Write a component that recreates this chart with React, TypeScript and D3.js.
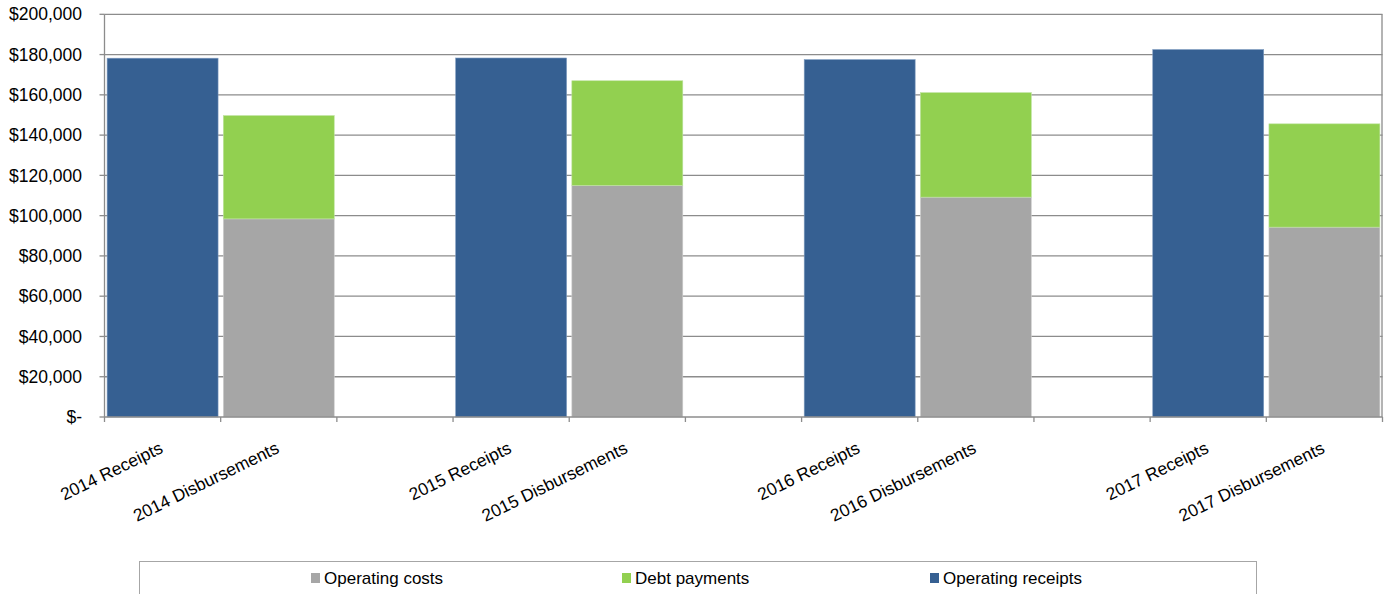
import React from "react";
import * as d3 from "d3";

const categories = [
  "2014 Receipts", "2014 Disbursements", "",
  "2015 Receipts", "2015 Disbursements", "",
  "2016 Receipts", "2016 Disbursements", "",
  "2017 Receipts", "2017 Disbursements",
];
const operatingReceipts: (number | null)[] = [178200, null, null, 178300, null, null, 177500, null, null, 182500, null];
const operatingCosts: (number | null)[] = [null, 98400, null, null, 115000, null, null, 109200, null, null, 94300];
const debtPayments: (number | null)[] = [null, 51300, null, null, 52000, null, null, 51900, null, null, 51300];
const yTicks = [0, 20000, 40000, 60000, 80000, 100000, 120000, 140000, 160000, 180000, 200000];

const seriesInfo = [
  { name: "Operating costs", color: "#A6A6A6" },
  { name: "Debt payments", color: "#92D050" },
  { name: "Operating receipts", color: "#366092" },
];

const W = 1385, H = 594;
const X0 = 104.5, X1 = 1382.5, Y0 = 417, Y1 = 14.3;
const FONT = "Arial, 'Liberation Sans', sans-serif";

export default function App() {
  const x = d3.scaleBand<string>()
    .domain(categories.map((c, i) => i + ""))
    .range([X0, X1])
    .paddingInner(0.045)
    .paddingOuter(0.0225);
  const y = d3.scaleLinear().domain([0, 200000]).range([Y0, Y1]);
  const step = x.step();
  const fmt = (v: number) => (v === 0 ? "$-" : "$" + d3.format(",")(v));

  const rects: JSX.Element[] = [];
  categories.forEach((c, i) => {
    const bx = x(i + "")!;
    const bw = x.bandwidth();
    const r = operatingReceipts[i];
    if (r != null) {
      rects.push(<rect key={"r" + i} x={bx} y={y(r)} width={bw} height={y(0) - y(r)} fill={seriesInfo[2].color} stroke="#7f9cc0" strokeWidth={0.6} />);
    }
    const oc = operatingCosts[i];
    const dp = debtPayments[i];
    if (oc != null) {
      rects.push(<rect key={"c" + i} x={bx} y={y(oc)} width={bw} height={y(0) - y(oc)} fill={seriesInfo[0].color} stroke="#d0d0d0" strokeWidth={0.6} />);
      if (dp != null) {
        rects.push(<rect key={"d" + i} x={bx} y={y(oc + dp)} width={bw} height={y(oc) - y(oc + dp)} fill={seriesInfo[1].color} stroke="#bfe3a0" strokeWidth={0.6} />);
      }
    }
  });

  const legendX = [311, 622, 930];

  return (
    <svg width={W} height={H} style={{ position: "absolute", left: 0, top: 0, background: "#fff" }} fontFamily={FONT}>
      {yTicks.map((t) => (
        <g key={"g" + t}>
          {t > 0 && <line x1={X0} x2={X1} y1={y(t)} y2={y(t)} stroke="#8c8c8c" strokeWidth={1.3} />}
          <line x1={X0 - 5} x2={X0} y1={y(t)} y2={y(t)} stroke="#8c8c8c" strokeWidth={1.3} />
          <text x={82} y={y(t)} dy="0.35em" textAnchor="end" fontSize={17.5} fill="#000">{fmt(t)}</text>
        </g>
      ))}
      <line x1={X1 - 0.5} x2={X1 - 0.5} y1={Y1} y2={Y0} stroke="#8c8c8c" strokeWidth={1.3} />
      {rects}
      <line x1={X0} x2={X0} y1={Y1} y2={Y0} stroke="#8c8c8c" strokeWidth={1.3} />
      <line x1={X0} x2={X1} y1={Y0} y2={Y0} stroke="#8c8c8c" strokeWidth={1.3} />
      {d3.range(categories.length + 1).map((i) => (
        <line key={"t" + i} x1={X0 + i * step} x2={X0 + i * step} y1={Y0} y2={Y0 + 5} stroke="#8c8c8c" strokeWidth={1.3} />
      ))}
      {categories.map((c, i) => {
        if (!c) return null;
        const cx = x(i + "")! + x.bandwidth() / 2 + 1.5;
        return (
          <text key={"l" + i} transform={`translate(${cx},452) rotate(-26)`} textAnchor="end" fontSize={17.4} fill="#000">{c}</text>
        );
      })}
      <rect x={139.5} y={561.5} width={1117} height={60} fill="#fff" stroke="#a6a6a6" strokeWidth={1} />
      {seriesInfo.map((s, i) => (
        <g key={"lg" + i}>
          <rect x={legendX[i]} y={573} width={9} height={10} fill={s.color} />
          <text x={legendX[i] + 13} y={578} dy="0.35em" fontSize={17} fill="#000">{s.name}</text>
        </g>
      ))}
    </svg>
  );
}
